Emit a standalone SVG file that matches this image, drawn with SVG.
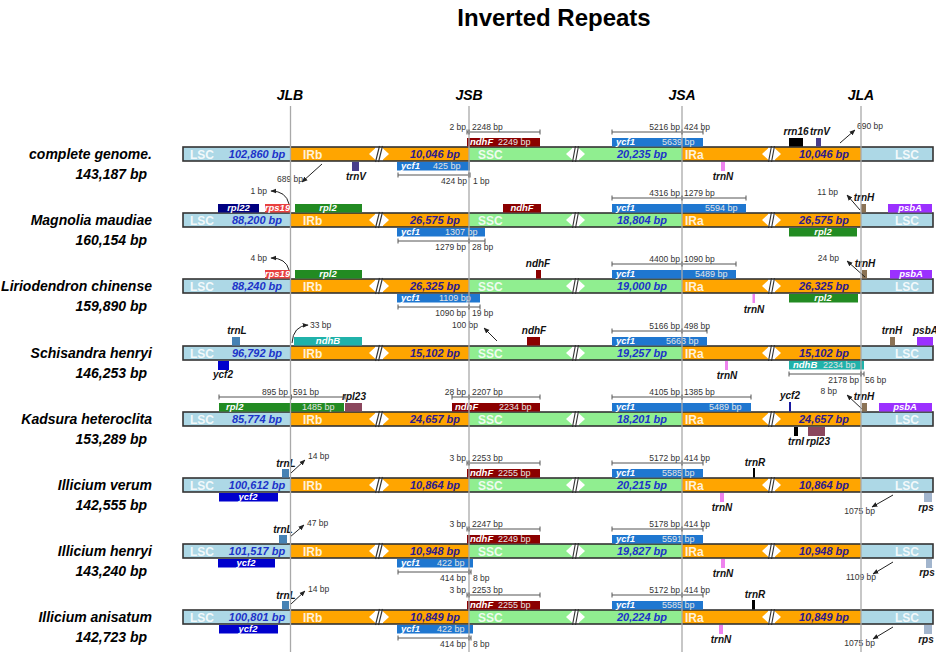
<svg xmlns="http://www.w3.org/2000/svg" xmlns:xlink="http://www.w3.org/1999/xlink" width="941" height="655" viewBox="0 0 941 655">
<style>
text{font-family:"Liberation Sans",Arial,sans-serif}
.title{font-size:24px;font-weight:bold;text-anchor:middle;fill:#000}
.jn{font-size:14px;font-weight:bold;font-style:italic;text-anchor:middle;fill:#000}
.nm{font-size:14px;font-weight:bold;font-style:italic;text-anchor:end;fill:#000}
.rg{font-size:12px;font-weight:bold;fill:#fff;opacity:.85}
.bl{font-size:11px;font-weight:bold;font-style:italic;text-anchor:middle;fill:#1c33c9}
.bi{font-size:11px;font-weight:bold;font-style:italic;text-anchor:middle;fill:#2c1a8e}
.gl{font-size:10px;font-weight:bold;font-style:italic;text-anchor:middle;fill:#111}
.gi{font-size:9.5px;font-weight:bold;font-style:italic;fill:#fff}
.gs{font-size:9px;fill:#e4e4e4}
.s{font-size:8.5px;fill:#333}
.e{text-anchor:end}
.m{text-anchor:middle}
.sc{stroke:#555;stroke-width:1;fill:none}
.jm{fill:#666}
.ar{stroke:#222;stroke-width:1;fill:none;marker-end:url(#ah)}
.vl{stroke:#a9a9a9;stroke-width:1.3}
.lsc{fill:#add8e6}.ir{fill:#ffa500}.ssc{fill:#90ee90}
.ycf1{fill:#1f77d0}.ndhF{fill:#8b0000}.rps19{fill:#e8403f}.rpl22{fill:#000080}
.rpl2{fill:#228b22}.trnV{fill:#483d8b}.trnN{fill:#ee82ee}.trnH{fill:#8b7355}
.psbA{fill:#9b30ff}.trnL{fill:#4682b4}.ycf2{fill:#0000cd}.ndhB{fill:#20b2aa}
.rpl23{fill:#8b475d}.blk{fill:#000}.rps{fill:#a2b5cd}
</style>
<defs>
<marker id="ah" viewBox="0 0 10 10" refX="9" refY="5" markerWidth="6" markerHeight="6" orient="auto"><path d="M0,1 L10,5 L0,9 z" fill="#222"/></marker>
<clipPath id="edge"><rect x="0" y="-30" width="936" height="60"/></clipPath>
<g id="bar">
<rect x="183" y="0" width="750" height="14" fill="#fff"/>
<rect class="lsc" x="183" y="0" width="108" height="14"/>
<rect class="ir" x="291" y="0" width="84" height="14"/>
<rect class="ir" x="383" y="0" width="86" height="14"/>
<rect class="ssc" x="469" y="0" width="103" height="14"/>
<rect class="ssc" x="579" y="0" width="103" height="14"/>
<rect class="ir" x="682" y="0" width="86" height="14"/>
<rect class="ir" x="775" y="0" width="86" height="14"/>
<rect class="lsc" x="861" y="0" width="72" height="14"/>
<g fill="#fff">
<polygon points="375,1.5 375,12.5 369,7"/><polygon points="383,1.5 383,12.5 389,7"/>
<polygon points="572,1.5 572,12.5 566,7"/><polygon points="579,1.5 579,12.5 585,7"/>
<polygon points="768,1.5 768,12.5 762,7"/><polygon points="775,1.5 775,12.5 781,7"/>
</g>
<rect x="183" y="0" width="750" height="14" fill="none" stroke="#333" stroke-width="1.6"/>
<g stroke="#333" stroke-width="1.2">
<line x1="375.5" y1="15" x2="379.5" y2="-1"/><line x1="378.5" y1="15" x2="382.5" y2="-1"/>
<line x1="572.5" y1="15" x2="575.5" y2="-1"/><line x1="575.5" y1="15" x2="578.5" y2="-1"/>
<line x1="768.5" y1="15" x2="771.5" y2="-1"/><line x1="771.5" y1="15" x2="774.5" y2="-1"/>
</g>
<text class="rg m" x="202" y="11.5">LSC</text>
<text class="rg" x="303" y="11.5">IRb</text>
<text class="rg" x="478" y="11.5">SSC</text>
<text class="rg" x="685" y="11.5">IRa</text>
<text class="rg" x="895" y="11.5">LSC</text>
</g>
</defs>

<rect width="941" height="655" fill="#fff"/>
<text class="title" x="554" y="26">Inverted Repeats</text>
<g id="junctions">
<text class="jn" x="290" y="100">JLB</text>
<text class="jn" x="469" y="100">JSB</text>
<text class="jn" x="682" y="100">JSA</text>
<text class="jn" x="861" y="100">JLA</text>
</g>

<!-- Row 1 -->
<g id="row-complete-genome" transform="translate(0,147)">
<text class="nm" x="152" y="12">complete genome.</text>
<text class="nm" x="147" y="32">143,187 bp</text>
<use href="#bar" xlink:href="#bar"/>
<text class="bl" x="257" y="11">102,860 bp</text><text class="bi" x="435" y="11">10,046 bp</text>
<text class="bl" x="642" y="11">20,235 bp</text><text class="bi" x="824" y="11">10,046 bp</text>
<rect class="ndhF" x="467" y="-9" width="73" height="8.5"/><text class="gi" x="470" y="-2">ndhF</text><text class="gs" x="498" y="-2">2249 bp</text>
<rect class="ycf1" x="612" y="-9" width="91" height="8.5"/><text class="gi" x="616" y="-2">ycf1</text><text class="gs" x="662" y="-2">5639 bp</text>
<rect class="blk" x="789" y="-9" width="14" height="8.5"/><text class="gl" x="796" y="-12">rrn16</text>
<rect class="trnV" x="816" y="-9" width="5" height="8.5"/><text class="gl" x="820" y="-12">trnV</text>
<rect class="ycf1" x="397" y="15" width="73" height="8.5"/><text class="gi" x="401" y="22">ycf1</text><text class="gs" x="433" y="22">425 bp</text>
<rect class="trnV" x="352" y="15" width="7" height="9"/><text class="gl" x="356" y="33">trnV</text>
<rect class="trnN" x="721" y="15" width="4" height="9"/><text class="gl" x="723" y="33">trnN</text>
<path class="sc" d="M467,-15H540M467,-17.5v5M540,-17.5v5"/><rect class="jm" x="468" y="-17.5" width="2" height="5"/>
<text class="s e" x="466" y="-17">2 bp</text><text class="s" x="472" y="-17">2248 bp</text>
<path class="sc" d="M612,-15H703M612,-17.5v5M703,-17.5v5"/><rect class="jm" x="681" y="-17.5" width="2" height="5"/>
<text class="s e" x="680" y="-17">5216 bp</text><text class="s" x="684" y="-17">424 bp</text>
<path class="sc" d="M398,28H470M398,25.5v5M470,25.5v5"/><rect class="jm" x="468" y="25.5" width="2" height="5"/>
<text class="s e" x="467" y="37">424 bp</text><text class="s" x="473" y="37">1 bp</text>
<text class="s e" x="303" y="35">689 bp</text><text class="s" x="857" y="-18">690 bp</text>
</g>

<!-- Row 2 -->
<g id="row-magnolia-maudiae" transform="translate(0,213)">
<text class="nm" x="152" y="12">Magnolia maudiae</text>
<text class="nm" x="147" y="32">160,154 bp</text>
<use href="#bar" xlink:href="#bar"/>
<text class="bl" x="257" y="11">88,200 bp</text><text class="bi" x="435" y="11">26,575 bp</text>
<text class="bl" x="642" y="11">18,804 bp</text><text class="bi" x="824" y="11">26,575 bp</text>
<rect class="rpl22" x="218" y="-9" width="41" height="8.5"/><text class="gi m" x="238.5" y="-2">rpl22</text>
<rect class="rps19" x="265" y="-9" width="25" height="8.5"/><text class="gi m" x="277.5" y="-2">rps19</text>
<rect class="rpl2" x="295" y="-9" width="67" height="8.5"/><text class="gi m" x="328" y="-2">rpl2</text>
<rect class="ndhF" x="503" y="-9" width="38" height="8.5"/><text class="gi m" x="522" y="-2">ndhF</text>
<rect class="ycf1" x="612" y="-9" width="134" height="8.5"/><text class="gi" x="616" y="-2">ycf1</text><text class="gs" x="705" y="-2">5594 bp</text>
<rect class="trnH" x="861" y="-9" width="5" height="8.5"/><text class="gl" x="864" y="-12">trnH</text>
<rect class="psbA" x="888" y="-9" width="44" height="8.5"/><text class="gi m" x="910" y="-2">psbA</text>
<rect class="ycf1" x="397" y="15" width="88" height="8.5"/><text class="gi" x="401" y="22">ycf1</text><text class="gs" x="445" y="22">1307 bp</text>
<rect class="rpl2" x="789" y="15" width="68" height="8.5"/><text class="gi m" x="823" y="22">rpl2</text>
<path class="sc" d="M612,-15H746M612,-17.5v5M746,-17.5v5"/><rect class="jm" x="681" y="-17.5" width="2" height="5"/>
<text class="s e" x="680" y="-17">4316 bp</text><text class="s" x="684" y="-17">1279 bp</text>
<path class="sc" d="M398,28H485M398,25.5v5M485,25.5v5"/><rect class="jm" x="468" y="25.5" width="2" height="5"/>
<text class="s e" x="466" y="37">1279 bp</text><text class="s" x="472" y="37">28 bp</text>
<text class="s e" x="267" y="-19">1 bp</text><text class="s e" x="838" y="-18">11 bp</text>
</g>

<!-- Row 3 -->
<g id="row-liriodendron-chinense" transform="translate(0,279)">
<text class="nm" x="152" y="12">Liriodendron chinense</text>
<text class="nm" x="147" y="32">159,890 bp</text>
<use href="#bar" xlink:href="#bar"/>
<text class="bl" x="257" y="11">88,240 bp</text><text class="bi" x="435" y="11">26,325 bp</text>
<text class="bl" x="642" y="11">19,000 bp</text><text class="bi" x="824" y="11">26,325 bp</text>
<rect class="rps19" x="265" y="-9" width="25" height="8.5"/><text class="gi m" x="277.5" y="-2">rps19</text>
<rect class="rpl2" x="295" y="-9" width="67" height="8.5"/><text class="gi m" x="328" y="-2">rpl2</text>
<rect class="ndhF" x="536" y="-9" width="5" height="8.5"/><text class="gl" x="538" y="-12">ndhF</text>
<rect class="ycf1" x="612" y="-9" width="124" height="8.5"/><text class="gi" x="616" y="-2">ycf1</text><text class="gs" x="695" y="-2">5489 bp</text>
<rect class="trnH" x="862" y="-9" width="5" height="8.5"/><text class="gl" x="865" y="-12">trnH</text>
<rect class="psbA" x="890" y="-9" width="42" height="8.5"/><text class="gi m" x="911" y="-2">psbA</text>
<rect class="ycf1" x="397" y="15" width="83" height="8.5"/><text class="gi" x="401" y="22">ycf1</text><text class="gs" x="439" y="22">1109 bp</text>
<rect class="trnN" x="752.5" y="15" width="2.5" height="9"/><text class="gl" x="754" y="34">trnN</text>
<rect class="rpl2" x="789" y="15" width="69" height="8.5"/><text class="gi m" x="823" y="22">rpl2</text>
<path class="sc" d="M612,-15H736M612,-17.5v5M736,-17.5v5"/><rect class="jm" x="681" y="-17.5" width="2" height="5"/>
<text class="s e" x="680" y="-17">4400 bp</text><text class="s" x="684" y="-17">1090 bp</text>
<path class="sc" d="M398,28H480M398,25.5v5M480,25.5v5"/><rect class="jm" x="468" y="25.5" width="2" height="5"/>
<text class="s e" x="466" y="37">1090 bp</text><text class="s" x="472" y="37">19 bp</text>
<text class="s e" x="267" y="-18">4 bp</text><text class="s e" x="839" y="-18">24 bp</text>
</g>

<!-- Row 4 -->
<g id="row-schisandra-henryi" transform="translate(0,346)">
<text class="nm" x="152" y="12">Schisandra henryi</text>
<text class="nm" x="147" y="32">146,253 bp</text>
<use href="#bar" xlink:href="#bar"/>
<text class="bl" x="257" y="11">96,792 bp</text><text class="bi" x="435" y="11">15,102 bp</text>
<text class="bl" x="642" y="11">19,257 bp</text><text class="bi" x="824" y="11">15,102 bp</text>
<rect class="trnL" x="232" y="-9" width="8" height="8.5"/><text class="gl" x="237" y="-12">trnL</text>
<rect class="ycf2" x="218" y="15" width="11" height="9"/><text class="gl" x="223" y="32">ycf2</text>
<rect class="ndhB" x="294" y="-9" width="68" height="8.5"/><text class="gi m" x="328" y="-2">ndhB</text>
<rect class="ndhF" x="527" y="-9" width="13" height="8.5"/><text class="gl" x="534" y="-12">ndhF</text>
<rect class="ycf1" x="612" y="-9" width="95" height="8.5"/><text class="gi" x="616" y="-2">ycf1</text><text class="gs" x="666" y="-2">5663 bp</text>
<rect class="trnN" x="725" y="15" width="3" height="9"/><text class="gl" x="727" y="33">trnN</text>
<rect class="ndhB" x="789" y="15" width="75" height="8.5"/><text class="gi" x="793" y="22">ndhB</text><text class="gs" x="823" y="22">2234 bp</text>
<rect class="trnH" x="890" y="-9" width="5" height="8.5"/><text class="gl" x="892" y="-12">trnH</text>
<rect class="psbA" x="917" y="-9" width="16" height="8.5"/><text class="gl" x="913" y="-12" style="text-anchor:start" clip-path="url(#edge)">psbA</text>
<path class="sc" d="M612,-15H707M612,-17.5v5M707,-17.5v5"/><rect class="jm" x="681" y="-17.5" width="2" height="5"/>
<text class="s e" x="680" y="-17">5166 bp</text><text class="s" x="684" y="-17">498 bp</text>
<path class="sc" d="M789,28H864M789,25.5v5M864,25.5v5"/><rect class="jm" x="860" y="25.5" width="2" height="5"/>
<text class="s e" x="859" y="37">2178 bp</text><text class="s" x="865" y="37">56 bp</text>
<text class="s" x="310" y="-18">33 bp</text><text class="s e" x="478" y="-18">100 bp</text>
</g>

<!-- Row 5 -->
<g id="row-kadsura-heteroclita" transform="translate(0,412)">
<text class="nm" x="152" y="12">Kadsura heteroclita</text>
<text class="nm" x="147" y="32">153,289 bp</text>
<use href="#bar" xlink:href="#bar"/>
<text class="bl" x="257" y="11">85,774 bp</text><text class="bi" x="435" y="11">24,657 bp</text>
<text class="bl" x="642" y="11">18,201 bp</text><text class="bi" x="824" y="11">24,657 bp</text>
<rect class="rpl2" x="219" y="-9" width="125" height="8.5"/><text class="gi" x="226" y="-2">rpl2</text><text class="gs" x="302" y="-2">1485 bp</text>
<rect class="rpl23" x="345" y="-9" width="17" height="8.5"/><text class="gl" x="354" y="-12">rpl23</text>
<rect class="ndhF" x="452" y="-9" width="88" height="8.5"/><text class="gi" x="455" y="-2">ndhF</text><text class="gs" x="499" y="-2">2234 bp</text>
<rect class="ycf1" x="612" y="-9" width="139" height="8.5"/><text class="gi" x="616" y="-2">ycf1</text><text class="gs" x="709" y="-2">5489 bp</text>
<rect x="789" y="-10" width="2" height="9.5" fill="#1a1aa0"/><text class="gl" x="790" y="-13">ycf2</text>
<rect class="trnH" x="862" y="-9" width="5" height="8.5"/><text class="gl" x="864" y="-12">trnH</text>
<rect class="psbA" x="879" y="-9" width="53" height="8.5"/><text class="gi m" x="905" y="-2">psbA</text>
<rect class="blk" x="794" y="15" width="4" height="9"/><text class="gl" x="796" y="33">trnI</text>
<rect class="rpl23" x="808" y="15" width="17" height="9"/><text class="gl" x="818" y="33">rpl23</text>
<path class="sc" d="M219,-15H345M219,-17.5v5M345,-17.5v5"/><rect class="jm" x="290" y="-17.5" width="2" height="5"/>
<text class="s e" x="288" y="-17">895 bp</text><text class="s" x="293" y="-17">591 bp</text>
<path class="sc" d="M452,-15H540M452,-17.5v5M540,-17.5v5"/><rect class="jm" x="468" y="-17.5" width="2" height="5"/>
<text class="s e" x="466" y="-17">28 bp</text><text class="s" x="472" y="-17">2207 bp</text>
<path class="sc" d="M612,-15H751M612,-17.5v5M751,-17.5v5"/><rect class="jm" x="681" y="-17.5" width="2" height="5"/>
<text class="s e" x="680" y="-17">4105 bp</text><text class="s" x="684" y="-17">1385 bp</text>
<text class="s e" x="837" y="-18">8 bp</text>
</g>

<!-- Row 6 -->
<g id="row-illicium-verum" transform="translate(0,478)">
<text class="nm" x="152" y="12">Illicium verum</text>
<text class="nm" x="147" y="32">142,555 bp</text>
<use href="#bar" xlink:href="#bar"/>
<text class="bl" x="257" y="11">100,612 bp</text><text class="bi" x="435" y="11">10,864 bp</text>
<text class="bl" x="642" y="11">20,215 bp</text><text class="bi" x="824" y="11">10,864 bp</text>
<rect class="trnL" x="282" y="-9" width="7" height="8.5"/><text class="gl" x="286" y="-11">trnL</text>
<rect class="ycf2" x="219" y="15" width="59" height="8.5"/><text class="gi m" x="248" y="22">ycf2</text>
<rect class="ndhF" x="467" y="-9" width="73" height="8.5"/><text class="gi" x="470" y="-2">ndhF</text><text class="gs" x="498" y="-2">2255 bp</text>
<rect class="ycf1" x="612" y="-9" width="91" height="8.5"/><text class="gi" x="616" y="-2">ycf1</text><text class="gs" x="662" y="-2">5585 bp</text>
<rect class="blk" x="753" y="-10" width="2" height="9.5"/><text class="gl" x="755" y="-12">trnR</text>
<rect class="trnN" x="720" y="15" width="4" height="9"/><text class="gl" x="722" y="33">trnN</text>
<rect class="rps" x="924" y="15" width="8" height="9"/><text class="gl" x="926" y="33">rps</text>
<path class="sc" d="M467,-15H540M467,-17.5v5M540,-17.5v5"/><rect class="jm" x="468" y="-17.5" width="2" height="5"/>
<text class="s e" x="466" y="-17">3 bp</text><text class="s" x="472" y="-17">2253 bp</text>
<path class="sc" d="M612,-15H703M612,-17.5v5M703,-17.5v5"/><rect class="jm" x="681" y="-17.5" width="2" height="5"/>
<text class="s e" x="680" y="-17">5172 bp</text><text class="s" x="684" y="-17">414 bp</text>
<text class="s" x="308" y="-19">14 bp</text><text class="s e" x="875" y="36">1075 bp</text>
</g>

<!-- Row 7 -->
<g id="row-illicium-henryi" transform="translate(0,544)">
<text class="nm" x="152" y="12">Illicium henryi</text>
<text class="nm" x="147" y="32">143,240 bp</text>
<use href="#bar" xlink:href="#bar"/>
<text class="bl" x="257" y="11">101,517 bp</text><text class="bi" x="435" y="11">10,948 bp</text>
<text class="bl" x="642" y="11">19,827 bp</text><text class="bi" x="824" y="11">10,948 bp</text>
<rect class="trnL" x="279" y="-9" width="8" height="8.5"/><text class="gl" x="283" y="-11">trnL</text>
<rect class="ycf2" x="218" y="15" width="57" height="8.5"/><text class="gi m" x="246" y="22">ycf2</text>
<rect class="ycf1" x="397" y="15" width="76" height="8.5"/><text class="gi" x="401" y="22">ycf1</text><text class="gs" x="437" y="22">422 bp</text>
<rect class="ndhF" x="467" y="-9" width="73" height="8.5"/><text class="gi" x="470" y="-2">ndhF</text><text class="gs" x="498" y="-2">2249 bp</text>
<rect class="ycf1" x="612" y="-9" width="91" height="8.5"/><text class="gi" x="616" y="-2">ycf1</text><text class="gs" x="662" y="-2">5591 bp</text>
<rect class="trnN" x="721" y="15" width="4" height="9"/><text class="gl" x="723" y="33">trnN</text>
<rect class="rps" x="926" y="15" width="6" height="9"/><text class="gl" x="927" y="32">rps</text>
<path class="sc" d="M467,-15H540M467,-17.5v5M540,-17.5v5"/><rect class="jm" x="468" y="-17.5" width="2" height="5"/>
<text class="s e" x="466" y="-17">3 bp</text><text class="s" x="472" y="-17">2247 bp</text>
<path class="sc" d="M612,-15H703M612,-17.5v5M703,-17.5v5"/><rect class="jm" x="681" y="-17.5" width="2" height="5"/>
<text class="s e" x="680" y="-17">5178 bp</text><text class="s" x="684" y="-17">414 bp</text>
<path class="sc" d="M398,28H471M398,25.5v5M471,25.5v5"/><rect class="jm" x="468" y="25.5" width="2" height="5"/>
<text class="s e" x="466" y="37">414 bp</text><text class="s" x="473" y="37">8 bp</text>
<text class="s" x="307" y="-18">47 bp</text><text class="s e" x="876" y="36">1109 bp</text>
</g>

<!-- Row 8 -->
<g id="row-illicium-anisatum" transform="translate(0,610)">
<text class="nm" x="152" y="12">Illicium anisatum</text>
<text class="nm" x="147" y="32">142,723 bp</text>
<use href="#bar" xlink:href="#bar"/>
<text class="bl" x="257" y="11">100,801 bp</text><text class="bi" x="435" y="11">10,849 bp</text>
<text class="bl" x="642" y="11">20,224 bp</text><text class="bi" x="824" y="11">10,849 bp</text>
<rect class="trnL" x="282" y="-9" width="7" height="8.5"/><text class="gl" x="286" y="-11">trnL</text>
<rect class="ycf2" x="219" y="15" width="59" height="8.5"/><text class="gi m" x="248" y="22">ycf2</text>
<rect class="ycf1" x="397" y="15" width="76" height="8.5"/><text class="gi" x="401" y="22">ycf1</text><text class="gs" x="437" y="22">422 bp</text>
<rect class="ndhF" x="467" y="-9" width="73" height="8.5"/><text class="gi" x="470" y="-2">ndhF</text><text class="gs" x="498" y="-2">2255 bp</text>
<rect class="ycf1" x="612" y="-9" width="91" height="8.5"/><text class="gi" x="616" y="-2">ycf1</text><text class="gs" x="662" y="-2">5585 bp</text>
<rect class="blk" x="752" y="-10" width="3" height="9.5"/><text class="gl" x="755" y="-12">trnR</text>
<rect class="trnN" x="719" y="15" width="4" height="9"/><text class="gl" x="721" y="33">trnN</text>
<rect class="rps" x="924" y="15" width="8" height="9"/><text class="gl" x="926" y="33">rps</text>
<path class="sc" d="M467,-15H540M467,-17.5v5M540,-17.5v5"/><rect class="jm" x="468" y="-17.5" width="2" height="5"/>
<text class="s e" x="466" y="-17">3 bp</text><text class="s" x="472" y="-17">2253 bp</text>
<path class="sc" d="M612,-15H703M612,-17.5v5M703,-17.5v5"/><rect class="jm" x="681" y="-17.5" width="2" height="5"/>
<text class="s e" x="680" y="-17">5172 bp</text><text class="s" x="684" y="-17">414 bp</text>
<path class="sc" d="M398,28H471M398,25.5v5M471,25.5v5"/><rect class="jm" x="468" y="25.5" width="2" height="5"/>
<text class="s e" x="466" y="37">414 bp</text><text class="s" x="473" y="37">8 bp</text>
<text class="s" x="308" y="-18">14 bp</text><text class="s e" x="875" y="36">1075 bp</text>
</g>

<!-- connectors (pointer arrows) -->
<g id="connectors">
<path class="ar" d="M322,164L302,182"/>
<path class="ar" d="M840,143L855,130"/>
<path class="ar" d="M289,204Q286,191 271,191"/>
<path class="ar" d="M860,210L847,195"/>
<path class="ar" d="M289,270Q286,258 271,258"/>
<path class="ar" d="M865,277L847,261"/>
<path class="ar" d="M292,343Q293,326 308,325"/>
<path class="ar" d="M497,341L484,328"/>
<path class="ar" d="M862,409L847,395"/>
<path class="ar" d="M291,473L305,460"/>
<path class="ar" d="M893,495L872,507"/>
<path class="ar" d="M290,537L304,525"/>
<path class="ar" d="M893,562L873,574"/>
<path class="ar" d="M291,604L305,591"/>
<path class="ar" d="M893,627L873,639"/>
</g>

<g id="junction-lines">
<line class="vl" x1="290.5" y1="106" x2="290.5" y2="652"/>
<line class="vl" x1="469" y1="106" x2="469" y2="652"/>
<line class="vl" x1="682" y1="106" x2="682" y2="652"/>
<line class="vl" x1="861" y1="106" x2="861" y2="652"/>
</g>
</svg>
